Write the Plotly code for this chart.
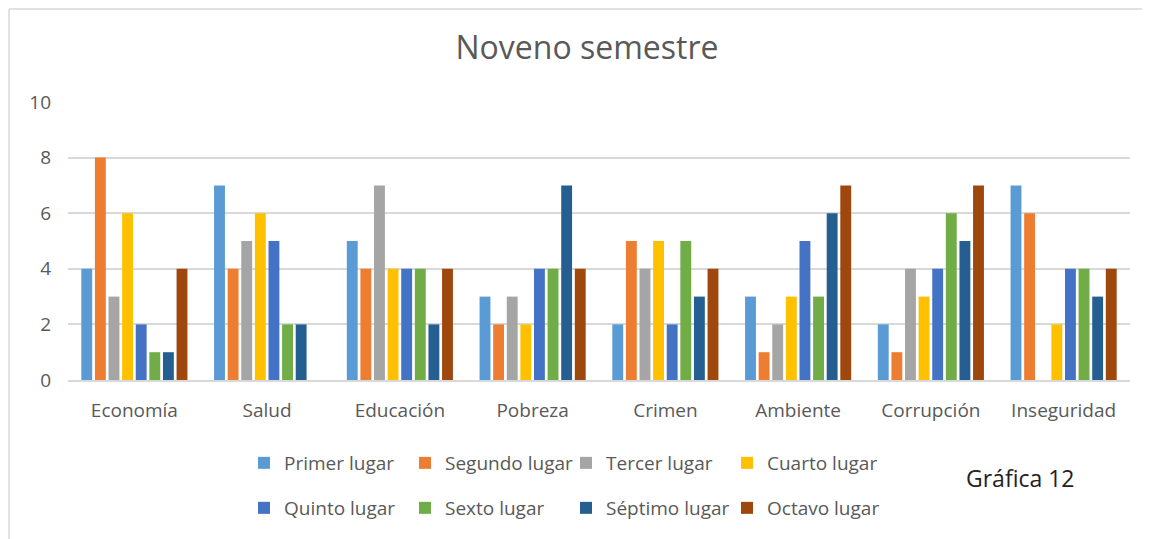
import plotly.graph_objects as go

# ─── datos ───
categorias = ['Economía', 'Salud', 'Educación', 'Pobreza', 'Crimen',
              'Ambiente', 'Corrupción', 'Inseguridad']

primer = [4, 7, 5, 3, 2, 3, 2, 7]
segundo = [8, 4, 4, 2, 5, 1, 1, 6]
tercer = [3, 5, 7, 3, 4, 2, 4, 0]
cuarto = [6, 6, 4, 2, 5, 3, 3, 2]
quinto = [2, 5, 4, 4, 2, 5, 4, 4]
sexto = [1, 2, 4, 4, 5, 3, 6, 4]
septimo = [1, 2, 2, 7, 3, 6, 5, 3]
octavo = [4, 0, 4, 4, 4, 7, 7, 4]

series = [
    ('Primer lugar', primer, '#5B9BD5', 'legend'),
    ('Segundo lugar', segundo, '#ED7D31', 'legend'),
    ('Tercer lugar', tercer, '#A5A5A5', 'legend'),
    ('Cuarto lugar', cuarto, '#FFC000', 'legend'),
    ('Quinto lugar', quinto, '#4472C4', 'legend2'),
    ('Sexto lugar', sexto, '#70AD47', 'legend2'),
    ('Séptimo lugar', septimo, '#255E91', 'legend2'),
    ('Octavo lugar', octavo, '#9E480E', 'legend2'),
]

TXT = '#595959'
GRID = '#D9D9D9'
FONT = 'Open Sans, Liberation Sans, sans-serif'

# la página añade 8 px de margen al cuerpo: se trabaja en coordenadas de pantalla
OFF = 8
W, H = 1150 - OFF, 539 - OFF
PX0, PX1, PY0, PY1 = 68, 1130, 102, 380   # área de trazado en pantalla
ml, mr, mt, mb = PX0 - OFF, W - (PX1 - OFF), PY0 - OFF, H - (PY1 - OFF)
pw, ph = PX1 - PX0, PY1 - PY0


def px_x(sx):
    return (sx - PX0) / pw


def px_y(sy):
    return (PY1 - sy) / ph


fig = go.Figure()
for nombre, vals, color, leg in series:
    fig.add_trace(go.Bar(
        x=categorias, y=vals, name=nombre,
        marker=dict(color=color, line=dict(width=0)),
        legend=leg,
    ))

leg_common = dict(
    orientation='h', xanchor='left', yanchor='middle',
    font=dict(family=FONT, size=19, color=TXT),
    entrywidth=116, entrywidthmode='pixels',
    itemsizing='constant', bgcolor='rgba(0,0,0,0)',
    tracegroupgap=0, itemclick=False,
)

fig.update_layout(
    width=W, height=H,
    paper_bgcolor='white', plot_bgcolor='white',
    margin=dict(l=ml, r=mr, t=mt, b=mb),
    barmode='group', bargap=0.18, bargroupgap=0.2,
    font=dict(family=FONT, color=TXT),
    title=dict(text='Noveno semestre', x=0.507, xanchor='center',
               y=1 - (48 - OFF) / H, yanchor='middle',
               font=dict(family=FONT, size=32, color=TXT)),
    xaxis=dict(showgrid=False, showline=True, linecolor=GRID, linewidth=1.5,
               ticks='', ticklabelstandoff=12,
               tickfont=dict(family=FONT, size=19, color=TXT)),
    yaxis=dict(range=[0, 10], dtick=2, showgrid=True, gridcolor=GRID,
               gridwidth=1.5, zeroline=False, ticks='', ticklabelstandoff=16,
               tickfont=dict(family=FONT, size=19, color=TXT)),
    legend=dict(x=px_x(244), y=px_y(463), **leg_common),
    legend2=dict(x=px_x(244), y=px_y(508), **leg_common),
    showlegend=True,
)

fig.add_annotation(
    text='Gráfica 12', xref='paper', yref='paper',
    x=px_x(1020), y=px_y(478),
    xanchor='center', yanchor='middle', showarrow=False,
    font=dict(family=FONT, size=23, color='#222222'),
)

# borde exterior del gráfico (recortado)
fig.add_shape(type='line', xref='paper', yref='paper',
              x0=px_x(OFF + 1), x1=px_x(1150),
              y0=px_y(OFF + 1), y1=px_y(OFF + 1),
              line=dict(color=GRID, width=1.5))
fig.add_shape(type='line', xref='paper', yref='paper',
              x0=px_x(OFF + 1), x1=px_x(OFF + 1),
              y0=px_y(OFF + 1), y1=px_y(539),
              line=dict(color=GRID, width=1.5))

fig.write_html('out.html')
